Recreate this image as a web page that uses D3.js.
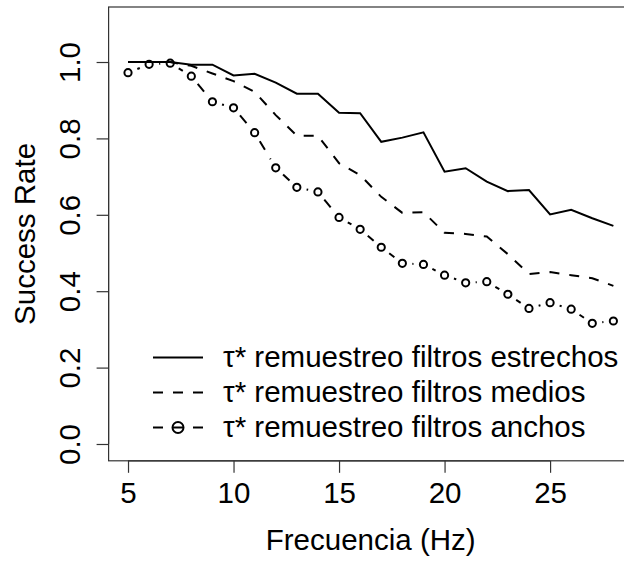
<!DOCTYPE html>
<html>
<head>
<meta charset="utf-8">
<script src="https://cdn.jsdelivr.net/npm/d3@7"></script>
<style>
  body { margin: 0; background: #fff; }
  svg { display: block; }
  text { font-family: "Liberation Sans", Arial, sans-serif; fill: #000; }
</style>
</head>
<body>
<svg width="624" height="561"></svg>
<script>
// chart data
const freqs = [5,6,7,8,9,10,11,12,13,14,15,16,17,18,19,20,21,22,23,24,25,26,27,28];
const estrechos = [1.0,1.0,1.0,0.993,0.993,0.965,0.969,0.946,0.917,0.917,0.867,0.866,0.791,0.802,0.816,0.713,0.722,0.687,0.662,0.665,0.601,0.613,0.591,0.571];
const medios = [1.0,1.0,1.0,0.99,0.97,0.95,0.922,0.861,0.807,0.807,0.735,0.704,0.647,0.605,0.607,0.553,0.55,0.543,0.497,0.445,0.45,0.442,0.434,0.414];
const anchos = [0.972,0.994,0.997,0.963,0.896,0.88,0.815,0.723,0.672,0.66,0.593,0.562,0.515,0.473,0.47,0.442,0.422,0.425,0.392,0.355,0.37,0.353,0.316,0.322];
const xTicks = [5,10,15,20,25];
const yTicks = [0,0.2,0.4,0.6,0.8,1.0];
const legendLabels = ['τ* remuestreo filtros estrechos','τ* remuestreo filtros medios','τ* remuestreo filtros anchos'];

const svg = d3.select('svg');

// R-style 4% padding around data range
const xscale = d3.scaleLinear().domain([4.08, 28.92]).range([108.6, 632.8]);
const yscale = d3.scaleLinear().domain([-0.044, 1.144]).range([460.8, 7]);

const fontSize = 29.5;

// box
svg.append('rect')
  .attr('x', xscale.range()[0]).attr('y', yscale.range()[1])
  .attr('width', xscale.range()[1] - xscale.range()[0])
  .attr('height', yscale.range()[0] - yscale.range()[1])
  .attr('fill', 'none').attr('stroke', '#333').attr('stroke-width', 1.2);

// y axis
const yAxis = svg.append('g')
  .attr('transform', `translate(${xscale.range()[0]},0)`)
  .call(d3.axisLeft(yscale).tickValues(yTicks).tickSize(12).tickFormat(d3.format('.1f')));
yAxis.select('.domain').attr('d', `M0,${yscale(0)}V${yscale(1)}`).attr('stroke', '#333').attr('stroke-width', 1.2);
yAxis.selectAll('line').attr('stroke', '#333').attr('stroke-width', 1.2);
yAxis.selectAll('text')
  .attr('x', 0).attr('y', -28.6).attr('dy', 0)
  .attr('transform', 'rotate(-90)')
  .attr('text-anchor', 'middle')
  .style('font-size', fontSize + 'px')
  .style('font-family', '"Liberation Sans", Arial, sans-serif')
  .attr('fill', '#000');

// x axis
const xAxis = svg.append('g')
  .attr('transform', `translate(0,${yscale.range()[0]})`)
  .call(d3.axisBottom(xscale).tickValues(xTicks).tickSize(12));
xAxis.select('.domain').attr('d', `M${xscale(5)},0H${xscale(25)}`).attr('stroke', '#333').attr('stroke-width', 1.2);
xAxis.selectAll('line').attr('stroke', '#333').attr('stroke-width', 1.2);
xAxis.selectAll('text')
  .attr('y', 42.5).attr('dy', 0)
  .style('font-size', fontSize + 'px')
  .style('font-family', '"Liberation Sans", Arial, sans-serif')
  .attr('fill', '#000');

// axis titles
svg.append('text')
  .attr('transform', `translate(35,${(yscale.range()[0] + yscale.range()[1]) / 2}) rotate(-90)`)
  .attr('text-anchor', 'middle')
  .style('font-size', fontSize + 'px')
  .text('Success Rate');

svg.append('text')
  .attr('x', (xscale.range()[0] + xscale.range()[1]) / 2)
  .attr('y', 550)
  .attr('text-anchor', 'middle')
  .style('font-size', fontSize + 'px')
  .text('Frecuencia (Hz)');

const line = d3.line().x(d => xscale(d[0])).y(d => yscale(d[1]));
const dash = '10,10';

// solid series
svg.append('path')
  .datum(freqs.map((f, i) => [f, estrechos[i]]))
  .attr('d', line)
  .attr('fill', 'none').attr('stroke', '#000').attr('stroke-width', 2);

// dashed series
svg.append('path')
  .datum(freqs.map((f, i) => [f, medios[i]]))
  .attr('d', line)
  .attr('fill', 'none').attr('stroke', '#000').attr('stroke-width', 2)
  .attr('stroke-dasharray', dash);

// points + trimmed dashed segments (like type = "b")
const ptsA = freqs.map((f, i) => [xscale(f), yscale(anchos[i])]);
const gap = 10;
const segs = [];
for (let i = 0; i < ptsA.length - 1; i++) {
  const [x0, y0] = ptsA[i], [x1, y1] = ptsA[i + 1];
  const len = Math.hypot(x1 - x0, y1 - y0);
  if (len <= 2 * gap) continue;
  const ux = (x1 - x0) / len, uy = (y1 - y0) / len;
  segs.push([x0 + ux * gap, y0 + uy * gap, x1 - ux * gap, y1 - uy * gap]);
}
svg.append('g').selectAll('line').data(segs).enter().append('line')
  .attr('x1', d => d[0]).attr('y1', d => d[1])
  .attr('x2', d => d[2]).attr('y2', d => d[3])
  .attr('stroke', '#000').attr('stroke-width', 2)
  .attr('stroke-dasharray', dash);

svg.append('g').selectAll('circle').data(ptsA).enter().append('circle')
  .attr('cx', d => d[0]).attr('cy', d => d[1]).attr('r', 3.6)
  .attr('fill', 'none').attr('stroke', '#000').attr('stroke-width', 2);

// legend
const legendRows = [357.5, 392.5, 427.5];
const lg = svg.append('g');
legendRows.forEach((ly, i) => {
  lg.append('line')
    .attr('x1', 153).attr('x2', 203).attr('y1', ly).attr('y2', ly)
    .attr('stroke', '#000').attr('stroke-width', 2)
    .attr('stroke-dasharray', i === 0 ? null : dash);
  if (i === 2) {
    lg.append('circle').attr('cx', 178).attr('cy', ly).attr('r', 5.5)
      .attr('fill', 'none').attr('stroke', '#000').attr('stroke-width', 2);
  }
  lg.append('text')
    .attr('x', 223).attr('y', ly + 9.5)
    .style('font-size', fontSize + 'px')
    .text(legendLabels[i]);
});
</script>
</body>
</html>
